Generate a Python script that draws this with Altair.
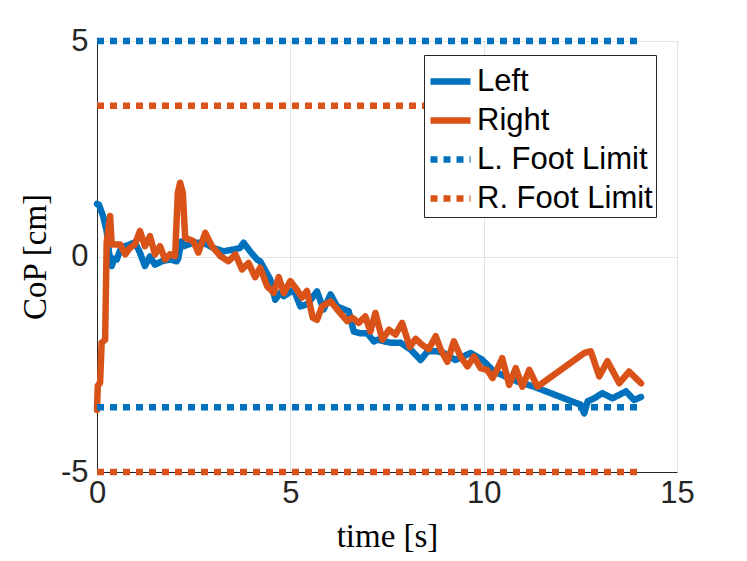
import altair as alt
import pandas as pd

# Left foot CoP (time [s], CoP [cm])
left_t = [0.00, 0.05, 0.16, 0.25, 0.31, 0.38, 0.45, 0.51, 0.60, 0.73, 0.85, 0.98, 1.11, 1.24, 1.37,
          1.50, 1.68, 1.89, 2.06, 2.10, 2.18, 2.24, 2.49, 2.75, 3.01, 3.27, 3.53, 3.70, 3.79, 3.96,
          4.14, 4.22, 4.48, 4.61, 4.74, 4.83, 5.09, 5.26, 5.45, 5.69, 5.86, 6.04, 6.21, 6.51, 6.64,
          6.81, 6.99, 7.16, 7.25, 7.59, 7.85, 8.11, 8.37, 8.55, 8.80, 8.97, 9.27, 9.66, 9.97, 10.27,
          10.87, 11.30, 12.51, 12.60, 12.69, 12.86, 13.07, 13.33, 13.68, 13.89, 14.07]
left_v = [1.22, 1.20, 0.93, 0.59, 0.10, -0.22, -0.05, -0.07, 0.15, 0.24, 0.28, 0.33, 0.09, -0.22, 0.00,
          -0.19, -0.11, -0.07, -0.11, -0.05, 0.35, 0.24, 0.32, 0.32, 0.20, 0.12, 0.16, 0.20, 0.32, 0.12,
          -0.07, -0.11, -0.53, -1.00, -0.84, -0.92, -0.77, -1.16, -1.10, -0.81, -1.23, -0.88, -1.16, -1.27, -1.74,
          -1.78, -1.78, -1.97, -1.93, -2.00, -2.00, -2.16, -2.40, -2.20, -2.20, -2.24, -2.40, -2.24, -2.40, -2.67,
          -2.90, -3.02, -3.44, -3.64, -3.36, -3.29, -3.17, -3.29, -3.13, -3.33, -3.26]

# Right foot CoP
right_t = [0.00, 0.02, 0.08, 0.12, 0.21, 0.25, 0.34, 0.38, 0.60, 0.73, 0.85, 0.98, 1.11, 1.24, 1.37,
           1.50, 1.63, 1.76, 1.89, 2.02, 2.09, 2.15, 2.22, 2.28, 2.49, 2.62, 2.80, 2.97, 3.19, 3.40,
           3.58, 3.75, 3.92, 4.09, 4.22, 4.40, 4.57, 4.70, 4.83, 5.00, 5.17, 5.30, 5.43, 5.58, 5.69,
           5.82, 6.04, 6.25, 6.47, 6.60, 6.77, 6.94, 7.07, 7.20, 7.38, 7.55, 7.72, 7.89, 8.09, 8.24,
           8.41, 8.58, 8.76, 8.89, 9.06, 9.23, 9.40, 9.58, 9.75, 9.92, 10.09, 10.23, 10.36, 10.48, 10.66,
           10.83, 11.00, 11.18, 11.39, 12.60, 12.77, 12.99, 13.20, 13.51, 13.76, 14.07]
right_v = [-3.56, -3.00, -2.93, -2.00, -1.93, 0.32, 0.94, 0.28, 0.28, 0.05, 0.20, 0.28, 0.59, 0.24, 0.47,
           0.05, 0.24, -0.07, 0.05, 0.01, 1.48, 1.71, 1.48, 0.43, 0.36, 0.09, 0.55, 0.24, 0.01, -0.11,
           0.05, -0.30, -0.15, -0.48, -0.26, -0.69, -0.84, -0.48, -0.85, -0.57, -0.77, -0.95, -0.80, -1.42, -1.47,
           -1.16, -1.04, -1.27, -1.50, -1.42, -1.54, -1.39, -1.74, -1.31, -1.93, -1.70, -1.81, -1.54, -2.10, -1.91,
           -2.05, -2.15, -1.85, -2.16, -2.44, -1.97, -2.32, -2.55, -2.32, -2.59, -2.63, -2.82, -2.60, -2.36, -2.98,
           -2.59, -3.02, -2.63, -3.02, -2.24, -2.20, -2.78, -2.43, -2.94, -2.67, -2.94]

# Foot limits
limit_t = [0.0, 14.07]
left_limits = [5.0, -3.5]
right_limits = [3.5, -5.0]

series_names = ["Left", "Right", "L. Foot Limit", "R. Foot Limit"]
series_colors = ["#0072BD", "#D95319", "#0072BD", "#D95319"]
series_dash = [[1, 0], [1, 0], [7, 6], [7, 6]]

x_ticks = [0, 5, 10, 15]
y_ticks = [-5, 0, 5]

rows = []
for t, v in zip(left_t, left_v):
    rows.append({"t": t, "v": v, "series": "Left", "seg": "Left"})
for t, v in zip(right_t, right_v):
    rows.append({"t": t, "v": v, "series": "Right", "seg": "Right"})
data_df = pd.DataFrame(rows)

lrows = []
for i, lv in enumerate(left_limits):
    for t in limit_t:
        lrows.append({"t": t, "v": lv, "series": "L. Foot Limit", "seg": f"L{i}"})
for i, rv in enumerate(right_limits):
    for t in limit_t:
        lrows.append({"t": t, "v": rv, "series": "R. Foot Limit", "seg": f"R{i}"})
lim_df = pd.DataFrame(lrows)

x_enc = alt.X("t:Q", scale=alt.Scale(domain=[0, 15], nice=False),
              axis=alt.Axis(values=x_ticks, title="time [s]", titleY=74,
                            titleBaseline="alphabetic", labelFlush=False))
y_enc = alt.Y("v:Q", scale=alt.Scale(domain=[-5, 5], nice=False),
              axis=alt.Axis(values=y_ticks, title="CoP [cm]", titleX=-52,
                            titleBaseline="alphabetic", labelFlush=False,
                            labelExpr="'' + datum.value"))
color_enc = alt.Color("series:N", scale=alt.Scale(domain=series_names, range=series_colors), title=None)
dash_enc = alt.StrokeDash("series:N", scale=alt.Scale(domain=series_names, range=series_dash), title=None)

data_layer = alt.Chart(data_df).mark_line(strokeWidth=6.5, strokeJoin="round", strokeCap="round").encode(
    x=x_enc, y=y_enc, color=color_enc, strokeDash=dash_enc, detail="seg:N", order="t:Q"
)
lim_layer = alt.Chart(lim_df).mark_line(strokeWidth=6.5, strokeCap="butt").encode(
    x=x_enc, y=y_enc, color=color_enc, strokeDash=dash_enc, detail="seg:N"
)

chart = alt.layer(data_layer, lim_layer).properties(
    width=580, height=431,
    autosize=alt.AutoSizeParams(type="none"),
    padding={"left": 89, "top": 33, "right": 62, "bottom": 81},
    background="white",
).configure_view(
    stroke="#DEDEDE", strokeWidth=1
).configure_axis(
    grid=True, gridColor="#E3E3E3", gridWidth=1,
    domainColor="#262626", domainWidth=1,
    ticks=False,
    labelFont="Liberation Sans", labelFontSize=31, labelColor="#262626",
    titleFont="Liberation Serif", titleFontSize=33, titleColor="#000000", titleFontWeight="normal",
).configure_axisX(
    labelPadding=6
).configure_axisY(
    labelPadding=9
).configure_legend(
    orient="none", legendX=327, legendY=14,
    fillColor="white", strokeColor="#262626", strokeWidth=1,
    padding=3, symbolType="stroke", symbolSize=1600, symbolStrokeWidth=6.5,
    labelFont="Liberation Sans", labelFontSize=31, labelColor="#000000",
    labelOffset=3, rowPadding=0, cornerRadius=0, labelLimit=400,
)

chart.save("out.html", embed_options={"renderer": "svg", "actions": False})
